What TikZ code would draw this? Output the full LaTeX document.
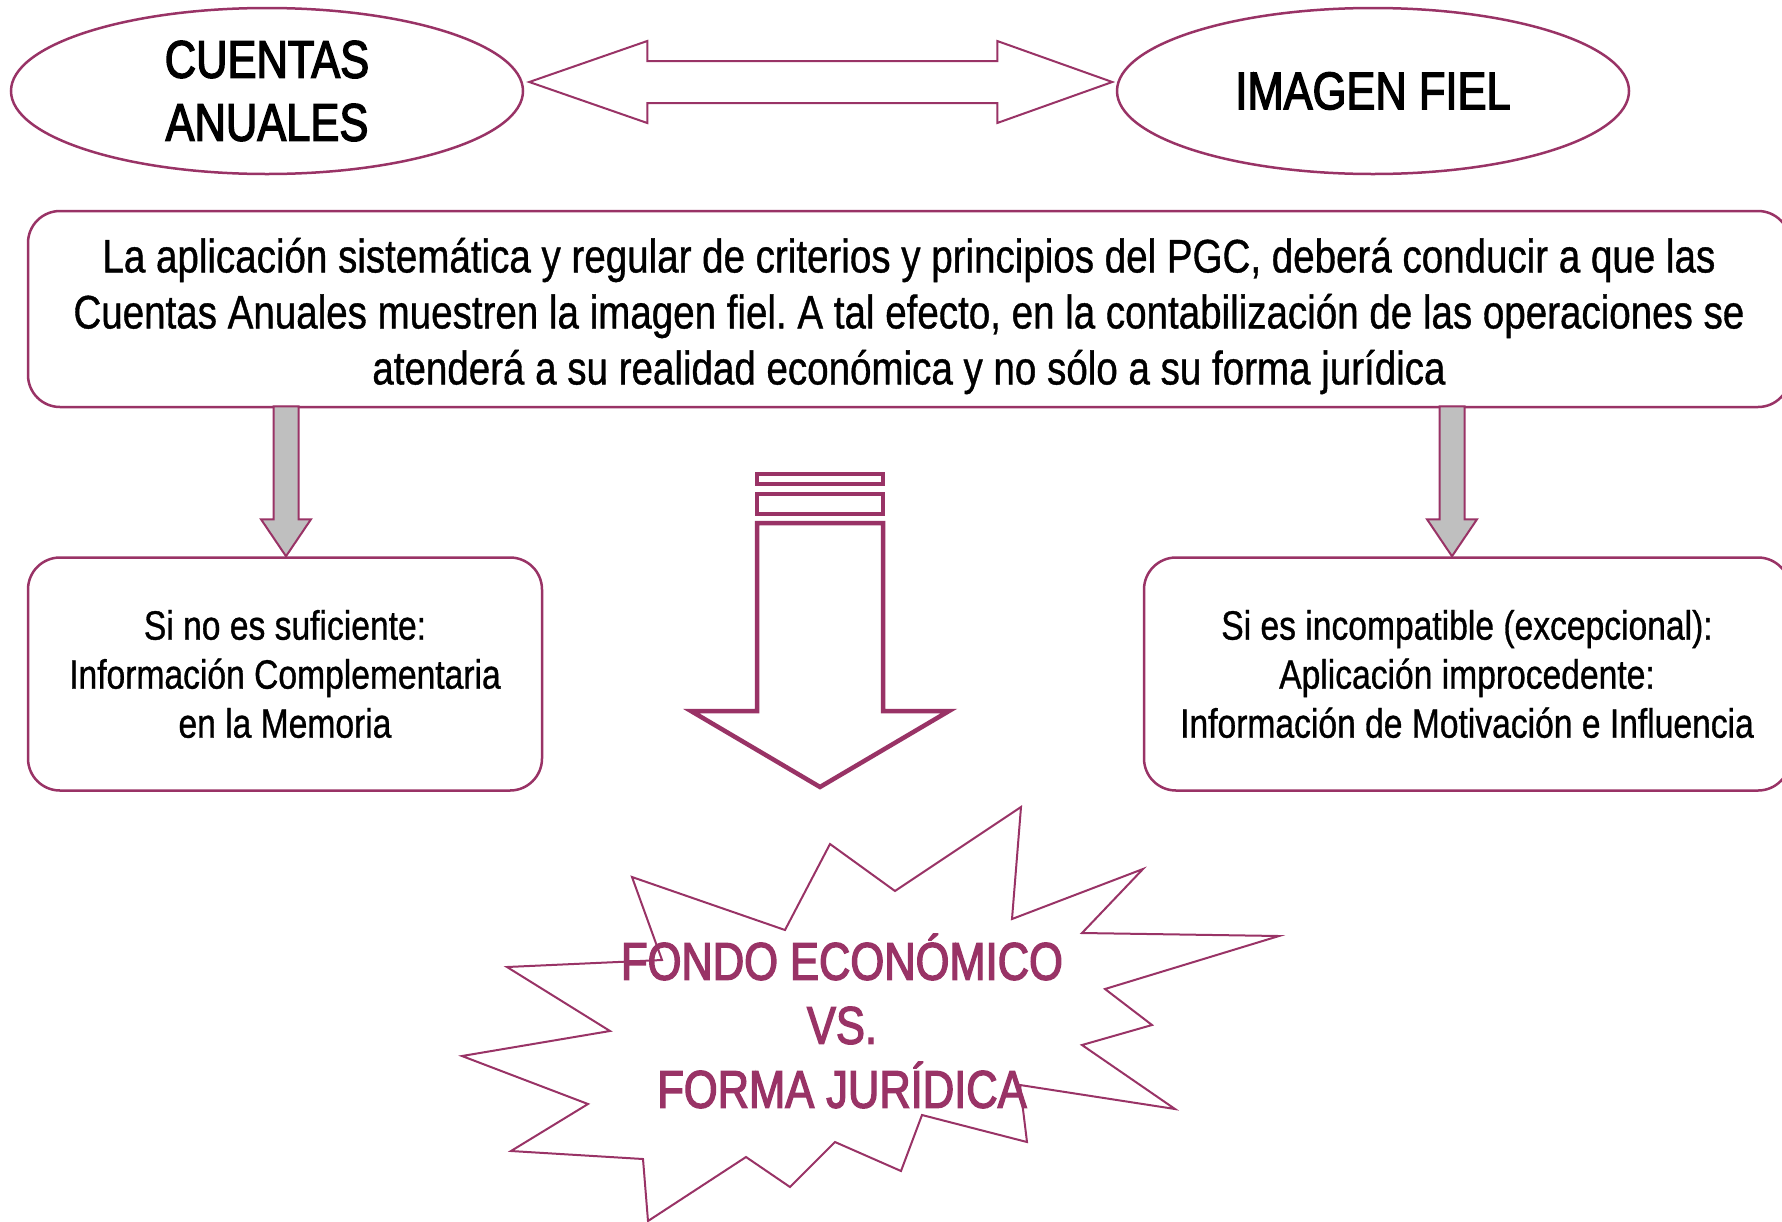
\documentclass[tikz,border=0pt]{standalone}
\usepackage{fontspec}
\setmainfont[FakeStretch=0.82,FakeBold=0.8]{Liberation Sans}
\newfontfamily\titular[FakeStretch=0.82,FakeBold=2.5]{Liberation Sans}
\usetikzlibrary{shapes.geometric}
\definecolor{ciruela}{RGB}{153,51,102}
\definecolor{gris}{RGB}{191,191,191}
\frenchspacing

\begin{document}
\begin{tikzpicture}[x=1pt,y=-1pt,%
  elipse/.style={ellipse,draw=ciruela,line width=2.5pt,inner sep=0pt,
    minimum width=512pt,minimum height=166pt,align=center,
    font=\titular\fontsize{53}{63}\selectfont},
  caja/.style={draw=ciruela,line width=2.5pt,rounded corners=32pt,
    align=center,inner sep=0pt},
  gruesa/.style={draw=ciruela,fill=gris,line width=2pt},
  hueca/.style={draw=ciruela,fill=white,line width=4.5pt,line join=miter},
  fina/.style={draw=ciruela,line width=2pt}]
  \useasboundingbox (0,0) rectangle (1782,1221);
  \node[elipse] (ca) at (267,91) {CUENTAS\\ANUALES};
  \node[elipse] (if) at (1373,91) {IMAGEN FIEL};
  \draw[fina,fill=white] ([shift={(5,-9)}]ca.east) --++(118,-41) --++(0,20)
    --++(350,0) --++(0,-20) --++(115,41) --++(-115,41) --++(0,-20)
    --++(-350,0) --++(0,20) -- cycle;
  \node[caja,minimum width=1762pt,minimum height=196pt] (pgc) at (909,309) {};
  \node[align=center,font=\fontsize{47}{56}\selectfont] (pgctxt)
    at ([yshift=-7pt]pgc.center)
    {La aplicación sistemática y regular de criterios y principios del PGC, deberá conducir a que las\\
     Cuentas Anuales muestren la imagen fiel. A tal efecto, en la contabilización de las operaciones se\\
     atenderá a su realidad económica y no sólo a su forma jurídica};
  \node[caja,minimum width=514pt,minimum height=233pt,
    font=\fontsize{41}{49}\selectfont] (memo) at (285,674)
    {Si no es suficiente:\\Información Complementaria\\en la Memoria};
  \node[caja,minimum width=646pt,minimum height=233pt,
    font=\fontsize{41}{49}\selectfont] (motiv) at (1467,674)
    {Si es incompatible (excepcional):\\Aplicación improcedente:\\Información de Motivación e Influencia};
  \draw[gruesa] ([xshift=1pt]memo.north) --++(-25,-37) --++(12.5,0) --++(0,-113)
    --++(25,0) --++(0,113) --++(12.5,0) -- cycle;
  \draw[gruesa] ([xshift=-15pt]motiv.north) --++(-25,-37) --++(12.5,0) --++(0,-113)
    --++(25,0) --++(0,113) --++(12.5,0) -- cycle;
  % flecha central
  \draw[hueca] (757,474) rectangle (883,484);
  \draw[hueca] (757,494) rectangle (883,514);
  \draw[hueca] (757,523) -- (757,711) -- (691,711) -- (820,787) -- (949,711)
    -- (883,711) -- (883,523) -- cycle;
  % explosion
  \draw[fina] (632,877) -- (785,930) -- (830,844) -- (895,891) -- (1021,807)
    -- (1012,919) -- (1143,869) -- (1082,933) -- (1279,936) -- (1105,989)
    -- (1152,1025) -- (1082,1045) -- (1175,1109) -- (1020,1085) -- (1027,1142)
    -- (922,1115) -- (901,1171) -- (835,1142) -- (790,1187) -- (746,1157)
    -- (648,1221) -- (643,1159) -- (511,1151) -- (588,1104) -- (462,1056)
    -- (610,1031) -- (507,967) -- (662,960) -- cycle;
  \node[align=center,text=ciruela,font=\titular\fontsize{53}{64}\selectfont] (fe)
    at (842,1021) {FONDO ECONÓMICO\\VS.\\FORMA JURÍDICA};
\end{tikzpicture}
\end{document}
